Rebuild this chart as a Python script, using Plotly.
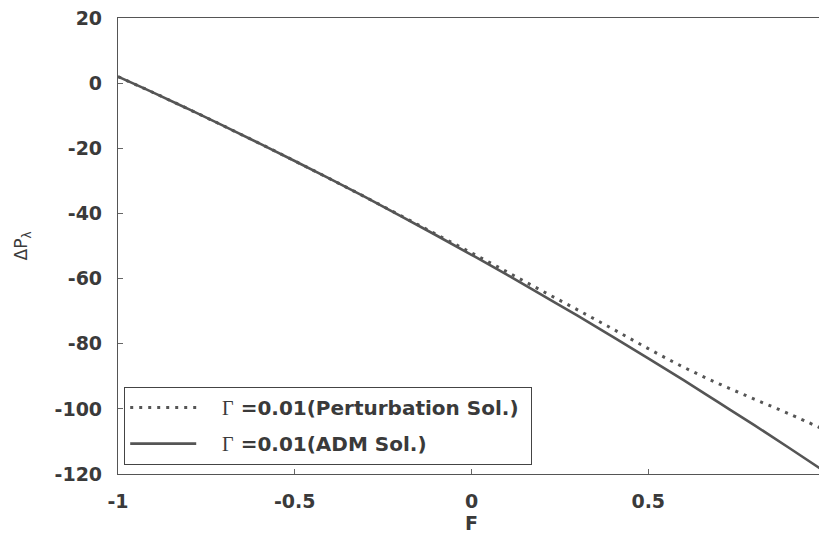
import plotly.graph_objects as go

F = [-1.0, -0.9, -0.8, -0.7, -0.6, -0.5, -0.4, -0.3, -0.2, -0.1, 0.0,
     0.1, 0.2, 0.3, 0.4, 0.5, 0.6, 0.7, 0.8, 0.9, 1.0]
adm = [2.0, -2.9, -8.0, -13.2, -18.5, -23.9, -29.4, -35.0, -40.8, -46.7, -52.7,
       -58.8, -65.1, -71.4, -77.9, -84.5, -91.2, -98.1, -105.0, -112.1, -119.3]
pert = [2.0, -2.9, -8.0, -13.2, -18.5, -23.9, -29.4, -35.0, -40.7, -46.4, -52.1,
        -57.9, -63.8, -69.6, -75.5, -81.5, -87.2, -92.3, -97.0, -101.6, -106.5]
x_ticks = [-1, -0.5, 0, 0.5, 1]
x_ticklabels = ["-1", "-0.5", "0", "0.5", "1"]
y_ticks = [20, 0, -20, -40, -60, -80, -100, -120]
y_ticklabels = ["20", "0", "-20", "-40", "-60", "-80", "-100", "-120"]

gamma = "\u00a0\u00a0\u00a0<span style='font-family:Liberation Serif;font-weight:normal'>Γ</span>"
name_pert = gamma + " =0.01(Perturbation Sol.)\u00a0"
name_adm = gamma + " =0.01(ADM Sol.)"

LINE = "#555555"
TXT = "#3a3a3a"
FONT = "DejaVu Sans"

fig = go.Figure()
fig.add_trace(go.Scatter(x=F, y=pert, mode="lines", name=name_pert, legendgroup="p",
                         line=dict(color=LINE, width=3, dash="3px,6px", shape="spline")))
fig.add_trace(go.Scatter(x=F, y=adm, mode="lines", name=name_adm, legendgroup="a",
                         line=dict(color=LINE, width=2.6, shape="spline")))

axis_common = dict(showline=True, mirror=True, linecolor="#555555", linewidth=1.2,
                   ticks="inside", ticklen=5, tickcolor="#666666", showgrid=False,
                   zeroline=False, automargin=False, ticklabeloverflow="allow",
                   tickfont=dict(family=FONT, size=19, color=TXT, weight="bold"))

fig.update_layout(
    width=819, height=534,
    margin=dict(l=110, r=2, t=10, b=68),
    paper_bgcolor="white", plot_bgcolor="white",
    xaxis=dict(range=[-1, 1], tickvals=x_ticks, ticktext=x_ticklabels,
               ticklabelstandoff=10,
               title=dict(text="F", standoff=3,
                          font=dict(family=FONT, size=19, color=TXT, weight="bold")),
               **axis_common),
    yaxis=dict(range=[-120, 20], tickvals=y_ticks, ticktext=y_ticklabels,
               ticklabelstandoff=11,
               title=dict(text="ΔP<sub>λ</sub>", standoff=22,
                          font=dict(family=FONT, size=17, color=TXT)),
               **axis_common),
    legend=dict(x=0.0085, y=0.02, xanchor="left", yanchor="bottom",
                bgcolor="white", bordercolor="#444444", borderwidth=1.2,
                font=dict(family=FONT, size=20, color=TXT, weight="bold"),
                tracegroupgap=7, itemwidth=66),
    showlegend=True,
)

fig.write_html("out.html")
